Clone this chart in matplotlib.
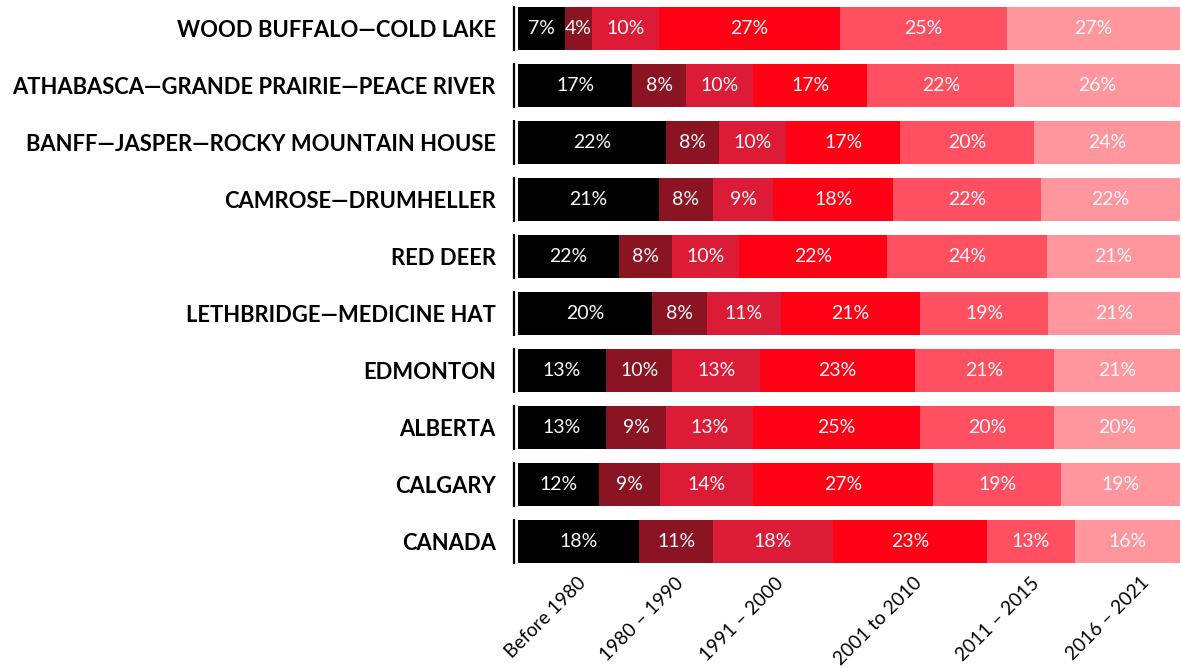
import matplotlib
matplotlib.use("Agg")
import matplotlib.pyplot as plt
import numpy as np

regions = ["WOOD BUFFALO—COLD LAKE", "ATHABASCA—GRANDE PRAIRIE—PEACE RIVER",
           "BANFF—JASPER—ROCKY MOUNTAIN HOUSE", "CAMROSE—DRUMHELLER", "RED DEER",
           "LETHBRIDGE—MEDICINE HAT", "EDMONTON", "ALBERTA", "CALGARY", "CANADA"]
periods = ["Before 1980", "1980 – 1990", "1991 – 2000", "2001 to 2010", "2011 – 2015", "2016 – 2021"]

# bar widths (share of each row, %) as drawn
before_1980 = [7.1, 17.3, 22.4, 21.3, 15.3, 20.3, 13.3, 13.3, 12.3, 18.3]
p1980_1990 = [4.1, 8.2, 8.0, 8.2, 8.0, 8.2, 10.0, 9.1, 9.1, 11.2]
p1991_2000 = [10.1, 10.1, 10.1, 9.1, 10.1, 11.2, 13.3, 13.1, 14.2, 18.1]
p2001_2010 = [27.3, 17.3, 17.2, 18.1, 22.4, 21.1, 23.3, 25.2, 27.2, 23.3]
p2011_2015 = [25.2, 22.2, 20.2, 22.4, 24.2, 19.3, 21.1, 20.2, 19.3, 13.3]
p2016_2021 = [26.1, 25.1, 22.1, 21.0, 20.1, 19.9, 19.0, 19.0, 18.0, 15.9]

# labels printed on the segments
lab_before_1980 = [7, 17, 22, 21, 22, 20, 13, 13, 12, 18]
lab_1980_1990 = [4, 8, 8, 8, 8, 8, 10, 9, 9, 11]
lab_1991_2000 = [10, 10, 10, 9, 10, 11, 13, 13, 14, 18]
lab_2001_2010 = [27, 17, 17, 18, 22, 21, 23, 25, 27, 23]
lab_2011_2015 = [25, 22, 20, 22, 24, 19, 21, 20, 19, 13]
lab_2016_2021 = [27, 26, 24, 22, 21, 21, 21, 20, 19, 16]

# positions of the period labels along the axis (%)
period_pos = [8.9, 23.7, 38.8, 59.7, 77.4, 94.1]

colors = ["#000000", "#8A1421", "#DC1C37", "#FF0015", "#FF5062", "#FF969D"]

series = [before_1980, p1980_1990, p1991_2000, p2001_2010, p2011_2015, p2016_2021]
labels = [lab_before_1980, lab_1980_1990, lab_1991_2000, lab_2001_2010, lab_2011_2015, lab_2016_2021]

W, H = 1181, 668
fig = plt.figure(figsize=(W / 100, H / 100), dpi=100)
ax = fig.add_axes([518 / W, 1 - 570 / H, (1180 - 518) / W, 570 / H])

data = np.array(series, dtype=float)
data = data / data.sum(axis=0) * 100
y = np.arange(len(regions))
left = np.zeros(len(regions))
for i in range(len(series)):
    ax.barh(y, data[i], left=left, height=0.74, color=colors[i], edgecolor="none")
    for j in range(len(regions)):
        ax.text(left[j] + data[i][j] / 2, y[j], f"{labels[i][j]}%", ha="center", va="center",
                color="#FAFAFA", fontsize=14, family="Lato")
    left += data[i]

ax.vlines(np.full(len(regions), -0.65), y - 0.39, y + 0.39, color="black", lw=1.6, clip_on=False)

ax.set_xlim(0, 100)
ax.set_ylim(len(regions) - 0.5, -0.5)
ax.set_yticks(y)
ax.set_yticklabels(regions, family="Lato", fontweight="bold", fontsize=15.8)
ax.tick_params(axis="y", length=0, pad=16)
ax.set_xticks(period_pos)
ax.set_xticklabels(periods, rotation=45, ha="right", rotation_mode="anchor", family="Lato", fontsize=13.8)
ax.tick_params(axis="x", length=0, pad=3)
for s in ax.spines.values():
    s.set_visible(False)

fig.savefig("out.png", dpi=100)
